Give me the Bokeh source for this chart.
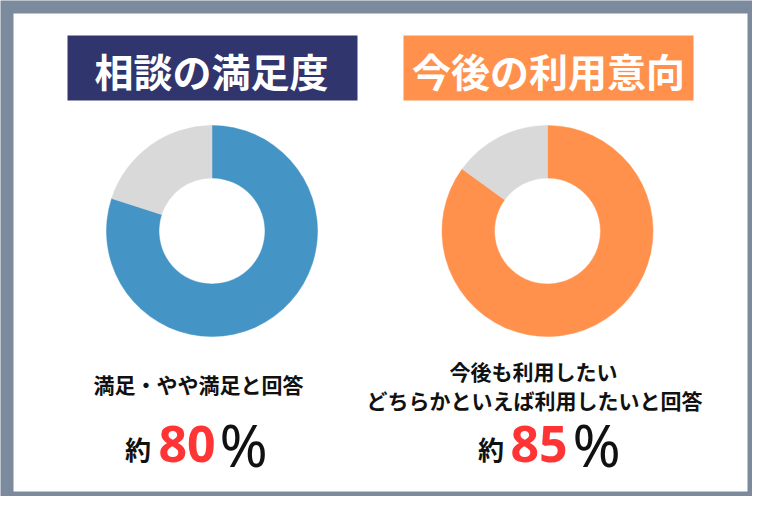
import math
from bokeh.plotting import figure
from bokeh.models import Range1d
from bokeh.core.properties import value
from bokeh.embed import file_html
from bokeh.resources import INLINE

# ---- data ----
titles = ["相談の満足度", "今後の利用意向"]
sat_labels = ["満足・やや満足", "その他"]
sat_values = [80, 20]
intent_labels = ["利用したい", "その他"]
intent_values = [85, 15]
captions_left = ["満足・やや満足と回答"]
captions_right = ["今後も利用したい", "どちらかといえば利用したいと回答"]
pct_left = "80"
pct_right = "85"

FW, FH = 752, 496
H = 512
CJK = value("Noto Sans CJK JP")
LAT = value("Noto Sans")

def Y(py):
    return H - py

p = figure(width=FW, height=FH, x_range=Range1d(0, FW), y_range=Range1d(Y(FH), Y(0)),
           output_backend="svg", toolbar_location=None, min_border=0)
p.axis.visible = False
p.grid.visible = False
p.outline_line_color = None
p.background_fill_color = "#7b8a9c"
p.border_fill_color = "#7b8a9c"

# white panel
p.quad(left=[13], right=[FW - 5], top=[Y(13)], bottom=[Y(FH - 5)], fill_color="white", line_color=None)

# title boxes
p.quad(left=[67], right=[357], top=[Y(35)], bottom=[Y(100)], fill_color="#31356e", line_color=None)
p.quad(left=[403], right=[693], top=[Y(35)], bottom=[Y(100)], fill_color="#ff914d", line_color=None)
p.text(x=[211, 548], y=[Y(69), Y(69)], text=titles, text_color="white", text_font=CJK,
       text_font_style="bold", text_font_size="39px", text_align="center", text_baseline="middle")

def donut(cx, cy, vals, colors):
    total = float(sum(vals))
    start = math.pi / 2
    starts, ends = [], []
    for v in vals:
        end = start - v / total * 2 * math.pi
        starts.append(start)
        ends.append(end)
        start = end
    p.annular_wedge(x=[cx] * len(vals), y=[Y(cy)] * len(vals), inner_radius=53, outer_radius=105.5,
                    start_angle=starts, end_angle=ends, direction="clock",
                    fill_color=colors, line_color=colors, line_width=0.5)

donut(211.5, 230.5, sat_values, ["#4495c6", "#d9d9d9"])
donut(547, 230.5, intent_values, ["#ff914d", "#d9d9d9"])

# captions
p.text(x=[198], y=[Y(383)], text=captions_left, text_color="#111111", text_font=CJK,
       text_font_style="bold", text_font_size="21px", text_align="center", text_baseline="middle")
p.text(x=[533, 534], y=[Y(370), Y(399)], text=captions_right, text_color="#111111", text_font=CJK,
       text_font_style="bold", text_font_size="21px", text_align="center", text_baseline="middle")

# percentages
p.text(x=[137.5, 490.5], y=[Y(447.5), Y(447.5)], text=["約", "約"], text_color="#111111", text_font=CJK,
       text_font_style="bold", text_font_size="26px", text_align="center", text_baseline="middle")
p.text(x=[158, 510], y=[Y(443.5), Y(443.5)], text=[pct_left, pct_right], text_color="#ff3535", text_font=LAT,
       text_font_style="bold", text_font_size="50px", text_align="left", text_baseline="middle")
p.text(x=[219, 572], y=[Y(444), Y(444)], text=["%", "%"], text_color="#111111", text_font=LAT,
       text_font_style="normal", text_font_size="58px", text_align="left", text_baseline="middle")

open("out.html", "w").write(file_html(p, INLINE))
